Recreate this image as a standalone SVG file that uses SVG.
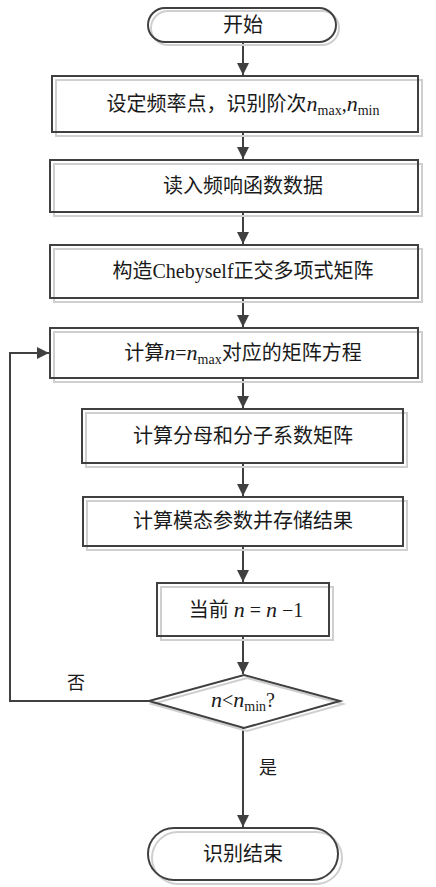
<svg xmlns="http://www.w3.org/2000/svg" width="436" height="887" viewBox="0 0 436 887">
<style>
.shape{fill:none;stroke:#404040;stroke-width:2}
.shadow{fill:none;stroke:#cfcfcf;stroke-width:2}
.conn{fill:none;stroke:#404040;stroke-width:2}
text{font-family:"Liberation Serif","Noto Sans CJK SC",serif;font-size:20px;fill:#1a1a1a;text-anchor:middle}
.it{font-style:italic;font-size:22px}
.sub{font-size:14px}
.lbl{font-size:18px}
</style>
<defs>
<marker id="arr" markerUnits="userSpaceOnUse" markerWidth="12" markerHeight="12" viewBox="0 0 12 12" refX="12" refY="6" orient="auto">
<path d="M0,0 L12,6 L0,12 Z" fill="#404040"/>
</marker>
</defs>
<rect width="436" height="887" fill="#fff"/>
<g id="connectors">
<path class="conn" d="M243,43 V75" marker-end="url(#arr)"/>
<path class="conn" d="M243,132 V159" marker-end="url(#arr)"/>
<path class="conn" d="M243,212 V244" marker-end="url(#arr)"/>
<path class="conn" d="M243,298 V327" marker-end="url(#arr)"/>
<path class="conn" d="M243,378 V408" marker-end="url(#arr)"/>
<path class="conn" d="M243,463 V496" marker-end="url(#arr)"/>
<path class="conn" d="M243,546 V582" marker-end="url(#arr)"/>
<path class="conn" d="M243,636 V674" marker-end="url(#arr)"/>
<path class="conn" d="M243,728 V827" marker-end="url(#arr)"/>
<path class="conn" d="M149,701 H10 V353 H49" marker-end="url(#arr)"/>
<text class="lbl" x="76" y="689">否</text>
<text class="lbl" x="268" y="774">是</text>
</g>
<g id="start">
<rect class="shadow" x="151" y="11" width="188" height="34" rx="17"/>
<rect class="shape" x="148" y="8" width="188" height="34" rx="17"/>
<text x="243" y="32">开始</text>
</g>
<g id="box1">
<rect class="shadow" x="56" y="80" width="366" height="56"/>
<rect class="shape" x="52" y="76" width="366" height="56"/>
<text x="243" y="111">设定频率点，识别阶次<tspan class="it">n</tspan><tspan class="sub" dy="4">max</tspan><tspan dy="-4">,</tspan><tspan class="it">n</tspan><tspan class="sub" dy="4">min</tspan></text>
</g>
<g id="box2">
<rect class="shadow" x="54" y="164" width="368" height="52"/>
<rect class="shape" x="50" y="160" width="368" height="52"/>
<text x="243" y="193">读入频响函数数据</text>
</g>
<g id="box3">
<rect class="shadow" x="54" y="249" width="368" height="53"/>
<rect class="shape" x="50" y="245" width="368" height="53"/>
<text x="243" y="278">构造Chebyself正交多项式矩阵</text>
</g>
<g id="box4">
<rect class="shadow" x="54" y="332" width="368" height="50"/>
<rect class="shape" x="50" y="328" width="368" height="50"/>
<text x="243" y="360">计算<tspan class="it">n</tspan>=<tspan class="it">n</tspan><tspan class="sub" dy="4">max</tspan><tspan dy="-4">对应的矩阵方程</tspan></text>
</g>
<g id="box5">
<rect class="shadow" x="86" y="413" width="321" height="54"/>
<rect class="shape" x="82" y="409" width="321" height="54"/>
<text x="243" y="443">计算分母和分子系数矩阵</text>
</g>
<g id="box6">
<rect class="shadow" x="87" y="501" width="320" height="49"/>
<rect class="shape" x="83" y="497" width="320" height="49"/>
<text x="243" y="528">计算模态参数并存储结果</text>
</g>
<g id="box7">
<rect class="shadow" x="161" y="587" width="172" height="53"/>
<rect class="shape" x="157" y="583" width="172" height="53"/>
<text x="246" y="617">当前 <tspan class="it">n</tspan> = <tspan class="it">n</tspan> −1</text>
</g>
<g id="decision">
<polygon class="shadow" points="152,704 247,678 343,704 247,731"/>
<polygon class="shape" points="149,701 244,675 340,701 244,728"/>
<text x="243" y="707"><tspan class="it">n</tspan>&lt;<tspan class="it">n</tspan><tspan class="sub" dy="4">min</tspan><tspan dy="-4">?</tspan></text>
</g>
<g id="end">
<rect class="shadow" x="152" y="832" width="190" height="52" rx="26"/>
<rect class="shape" x="148" y="828" width="190" height="52" rx="26"/>
<text x="243" y="861">识别结束</text>
</g>
</svg>
